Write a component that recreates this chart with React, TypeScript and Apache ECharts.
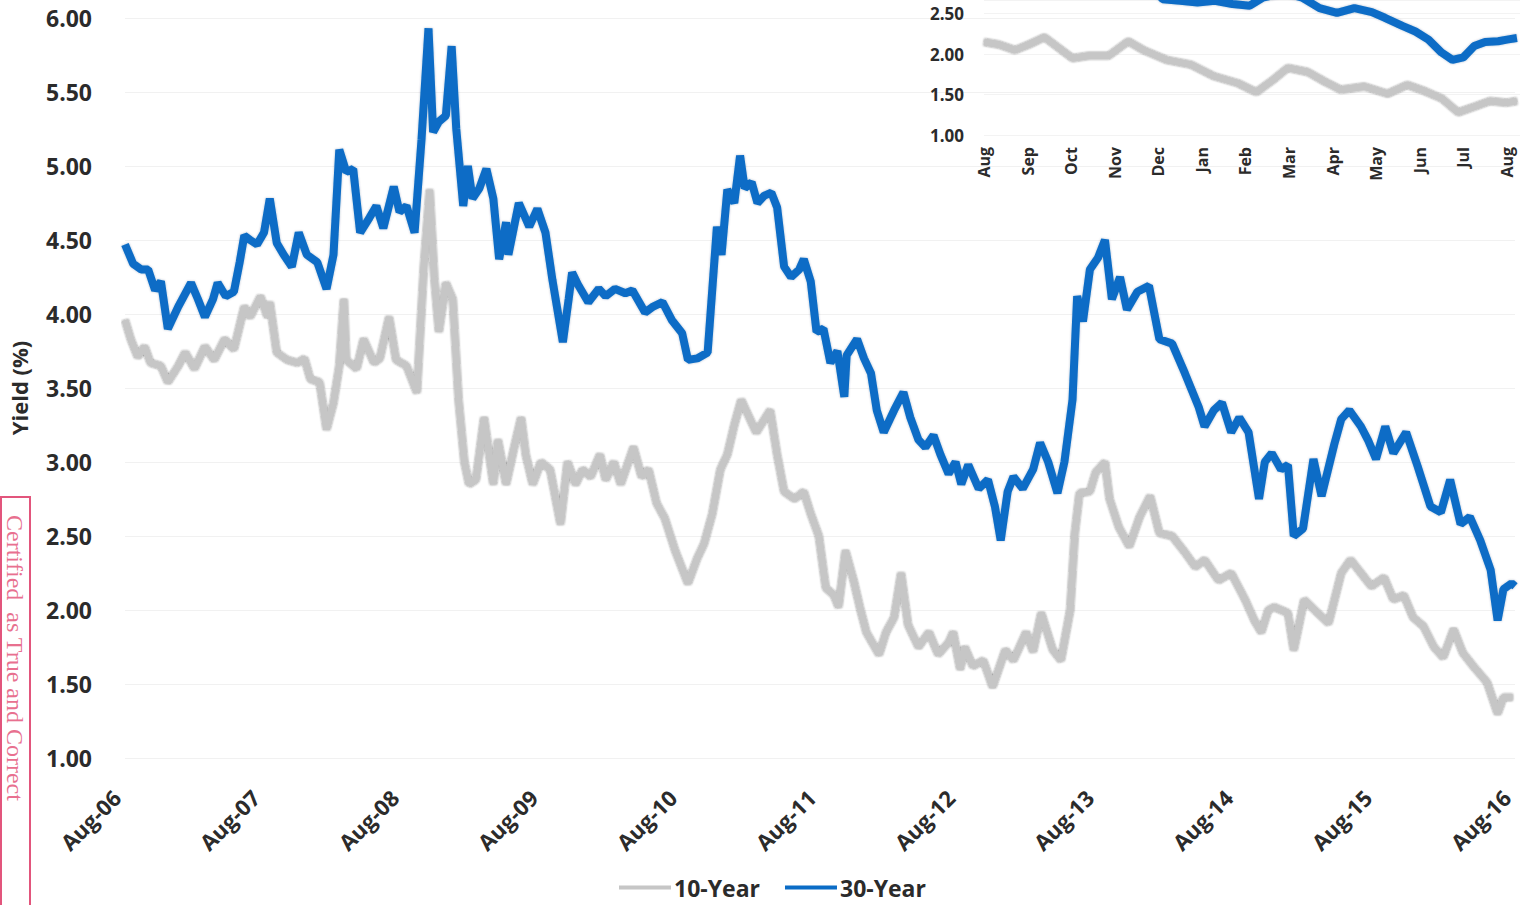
import React, { useEffect, useRef } from "react";
import * as echarts from "echarts";

// Main chart: months since Aug-2006, yields (%)
const months30 = [0,0.7,1.4,2,2.6,3.1,3.7,4.6,5.7,6.3,6.9,7.6,8,8.7,9.4,9.9,10.3,10.8,11.4,12,12.5,13.1,13.7,14.4,15,15.7,16.6,17.4,18,18.5,19.1,19.7,20.3,21.1,21.7,22.3,23.2,23.7,24.3,25,25.6,26.2,26.6,27.1,27.7,28.2,28.6,29.2,29.6,30,30.6,31.2,31.8,32.3,32.9,33.1,34,34.9,35.6,36.3,36.9,37.8,38.3,38.6,39.1,40,40.9,41.5,42.3,43.2,43.8,44.9,45.6,46.4,47.2,48.1,48.6,49.4,50.3,51.1,51.5,52,52.6,53.1,53.5,54.1,54.6,55.2,55.8,56.3,56.9,57.5,58.2,58.6,59.2,59.7,60.3,60.9,61.5,62.1,62.3,63.2,63.8,64.4,64.9,65.5,66.4,67.2,67.8,68.5,69.1,69.8,70.4,71.1,71.7,72.2,72.8,73.7,74.5,75.1,75.6,76.2,76.7,77.5,78.4,79,79.7,80.5,81.1,81.8,82.2,82.7,83.3,84,84.6,85.2,85.9,86.5,87.4,88.4,89.3,90.4,91.5,92.7,93.2,94,94.7,95.5,96.2,97,97.9,98.4,99,99.8,100.4,100.9,101.7,102.6,103.3,104.4,105,105.7,106.7,107.3,108,108.8,109.5,110.6,111.6,112.7,113.6,114.4,115.3,116.1,117,117.9,118.5,119,119.7,120];
const yields30 = [4.47,4.34,4.3,4.3,4.16,4.22,3.9,4.05,4.21,4.1,3.98,4.1,4.21,4.12,4.15,4.35,4.53,4.5,4.47,4.55,4.78,4.48,4.4,4.32,4.55,4.4,4.35,4.17,4.4,5.11,4.96,4.98,4.55,4.65,4.73,4.58,4.86,4.69,4.73,4.55,5.18,5.93,5.23,5.3,5.34,5.81,5.25,4.73,5,4.78,4.85,4.98,4.78,4.37,4.62,4.4,4.75,4.59,4.71,4.55,4.23,3.81,4.1,4.28,4.2,4.08,4.17,4.12,4.17,4.14,4.16,4.01,4.05,4.08,3.96,3.87,3.69,3.7,3.74,4.59,4.4,4.84,4.75,5.07,4.85,4.89,4.75,4.8,4.82,4.72,4.32,4.25,4.3,4.37,4.22,3.88,3.9,3.67,3.75,3.44,3.72,3.83,3.7,3.6,3.35,3.2,3.35,3.47,3.3,3.15,3.1,3.18,3.05,2.92,3,2.85,2.98,2.82,2.88,2.7,2.47,2.8,2.9,2.82,2.95,3.13,3,2.79,3,3.42,4.12,3.95,4.3,4.38,4.5,4.1,4.25,4.03,4.15,4.19,3.83,3.8,3.6,3.37,3.24,3.35,3.4,3.2,3.3,3.2,2.75,3,3.06,2.95,2.98,2.5,2.55,3.02,2.77,3.12,3.29,3.35,3.24,3.15,3.02,3.24,3.06,3.2,2.97,2.7,2.66,2.88,2.58,2.63,2.47,2.27,1.93,2.14,2.18,2.16];

const months10 = [0,0.5,1.1,1.7,2.2,3.1,3.7,4.6,5.2,6,6.9,7.7,8.6,9.4,10.3,10.8,11.7,12.3,12.5,13.1,14,14.9,15.5,16,16.8,17.4,18,18.5,18.9,19.1,20,20.6,21.5,22,22.8,23.4,24.3,25.2,25.8,26.3,26.7,27.1,27.7,28.3,28.8,29.3,29.7,30.3,31,31.8,32.2,32.9,33.6,34.2,34.6,35.2,35.9,36.7,37.6,38.2,38.9,39.5,40.2,41,41.5,42.2,42.8,43.9,44.6,45.2,45.9,46.6,47.5,48.6,49.4,50,50.7,51.4,52,52.6,53.2,53.9,54.5,55.7,56.3,56.9,57.8,58.6,59.2,59.9,60.5,61.2,61.6,62.2,62.9,63.5,64,65.1,65.7,66.4,67,67.6,68.5,69.4,70.2,71.1,71.5,72.1,72.5,73.2,74.1,74.9,76,76.7,77.8,78.4,79.1,80.1,80.8,81.6,82,82.4,83.3,83.8,84.6,85,85.8,86.7,87.6,88.5,89.3,90.4,91.5,92.4,93.2,94.4,95.5,96.7,97.5,98.1,98.7,99.2,100.4,100.9,101.8,102.7,103.9,105,105.8,106.7,107.6,108.7,109.5,110.4,111.2,112.1,113,113.8,114.7,115.5,116.4,117.6,118.5,119,119.8];
const yields10 = [3.96,3.83,3.71,3.78,3.67,3.65,3.54,3.65,3.74,3.63,3.78,3.69,3.83,3.76,4.05,3.98,4.12,3.98,4.08,3.74,3.69,3.67,3.7,3.56,3.54,3.22,3.4,3.65,4.1,3.69,3.63,3.83,3.67,3.7,3.98,3.69,3.65,3.47,4.32,4.84,4.25,3.88,4.21,4.1,3.42,3,2.85,2.88,3.3,2.85,3.15,2.85,3.1,3.3,3.05,2.85,3,2.95,2.58,3,2.85,2.95,2.9,3.05,2.88,3,2.85,3.1,2.9,2.95,2.72,2.62,2.4,2.18,2.35,2.45,2.65,2.95,3.05,3.25,3.42,3.3,3.2,3.35,3.05,2.8,2.75,2.8,2.65,2.5,2.15,2.1,2.02,2.4,2.2,2,1.85,1.7,1.85,1.95,2.25,1.9,1.75,1.85,1.7,1.78,1.85,1.6,1.75,1.62,1.66,1.48,1.73,1.66,1.85,1.72,1.98,1.73,1.66,2,2.52,2.79,2.8,2.93,3,2.75,2.56,2.43,2.63,2.77,2.52,2.5,2.39,2.29,2.34,2.2,2.25,2.07,1.93,1.85,2,2.02,1.98,1.73,2.07,2,1.91,2.25,2.34,2.25,2.16,2.22,2.07,2.1,1.95,1.89,1.75,1.68,1.87,1.71,1.62,1.51,1.3,1.41,1.41];

const mainTickLabels = ["Aug-06","Aug-07","Aug-08","Aug-09","Aug-10","Aug-11","Aug-12","Aug-13","Aug-14","Aug-15","Aug-16"];

// Inset: months since Aug-2015
const insetMonths10 = [0,0.34,0.71,1.03,1.39,1.71,2.03,2.4,2.86,3.31,3.66,4.18,4.75,5.26,5.83,6.25,6.63,6.97,7.43,7.82,8.18,8.73,9.26,9.71,10.08,10.51,10.88,11.25,11.61,12,12.23];
const insetYields10 = [2.15,2.12,2.05,2.12,2.21,2.08,1.95,1.98,1.98,2.16,2.05,1.93,1.87,1.73,1.64,1.53,1.68,1.83,1.78,1.66,1.56,1.6,1.51,1.62,1.55,1.45,1.28,1.35,1.42,1.4,1.42];
const insetMonths30 = [0,0.5,1,1.5,2,2.5,3,3.5,3.9,4.1,4.5,4.9,5.3,5.7,6.1,6.4,6.9,7.3,7.7,8.1,8.5,8.9,9.2,9.6,9.9,10.2,10.5,10.75,11,11.25,11.5,11.8,12,12.23];
const insetYields30 = [2.95,2.9,2.95,2.85,2.9,2.95,3,2.95,2.8,2.68,2.66,2.64,2.66,2.62,2.6,2.7,2.76,2.7,2.57,2.51,2.57,2.52,2.45,2.35,2.28,2.18,2.02,1.93,1.96,2.1,2.15,2.16,2.18,2.2];
const insetTickLabels = ["Aug","Sep","Oct","Nov","Dec","Jan","Feb","Mar","Apr","May","Jun","Jul","Aug"];

const FONT = "'Open Sans', 'DejaVu Sans', sans-serif";
const TEXT = "#2b2b2b";
const GRAY = "#c6c6c6";
const BLUE = "#0b6cc6";

const pair = (xs: number[], ys: number[]) => xs.map((x, i) => [x, ys[i]]);
const onHalf = (v: number) => Math.abs(v * 2 - Math.round(v * 2)) < 1e-6;

export default function App() {
  const ref = useRef<HTMLDivElement>(null);
  useEffect(() => {
    document.body.style.margin = "0";
    const chart = echarts.init(ref.current!, null, { renderer: "svg" });
    const grayLine = { color: GRAY, width: 7, shadowColor: "rgba(0,0,0,0.55)", shadowBlur: 2 };
    const blueLine = { color: BLUE, width: 8, shadowColor: "rgba(0,40,90,0.3)", shadowBlur: 2 };
    chart.setOption({
      animation: false,
      backgroundColor: "#ffffff",
      textStyle: { fontFamily: FONT },
      legend: {
        bottom: 1,
        left: 614,
        itemWidth: 52,
        itemHeight: 4,
        itemGap: 25,
        icon: "rect",
        textStyle: { fontFamily: FONT, fontWeight: "bold", fontSize: 23, color: TEXT, padding: [0, 0, 0, -2] },
        data: ["10-Year", "30-Year"],
      },
      grid: [
        { left: 117, top: 18, width: 1398, height: 740 },
        { left: 984, top: 0, width: 538, height: 135 },
      ],
      xAxis: [
        {
          type: "value", gridIndex: 0, min: 0, max: 120, interval: 12,
          axisLine: { show: false }, axisTick: { show: false }, splitLine: { show: false },
          axisLabel: {
            rotate: 45, margin: 27, fontFamily: FONT, fontWeight: "bold", fontSize: 22, color: TEXT,
            padding: [0, 12, 0, 0],
            formatter: (v: number) => (v % 12 === 0 ? mainTickLabels[v / 12] ?? "" : ""),
          },
        },
        {
          type: "value", gridIndex: 1, min: 0, max: 12.3, interval: 1,
          axisLine: { show: false }, axisTick: { show: false }, splitLine: { show: false },
          axisLabel: {
            rotate: 90, margin: 12, fontFamily: FONT, fontWeight: "bold", fontSize: 16, color: TEXT,
            formatter: (v: number) => (Number.isInteger(v) ? insetTickLabels[v] ?? "" : ""),
          },
        },
      ],
      yAxis: [
        {
          type: "value", gridIndex: 0, min: 1, max: 6, interval: 0.5,
          name: "Yield (%)", nameLocation: "middle", nameRotate: 90, nameGap: 95,
          nameTextStyle: { fontFamily: FONT, fontWeight: "bold", fontSize: 22, color: TEXT },
          axisLine: { show: false }, axisTick: { show: false },
          splitLine: { show: true, lineStyle: { color: "#f1f1f1", width: 1 } },
          axisLabel: { margin: 33, fontFamily: FONT, fontWeight: "bold", fontSize: 23, color: TEXT, formatter: (v: number) => v.toFixed(2) },
        },
        {
          type: "value", gridIndex: 1, min: 1, max: 2.67, interval: 0.5,
          axisLine: { show: false }, axisTick: { show: false },
          splitLine: { show: true, lineStyle: { color: "#f3f3f3", width: 1 } },
          axisLabel: { margin: 20, fontFamily: FONT, fontWeight: "bold", fontSize: 17, color: TEXT, formatter: (v: number) => (onHalf(v) ? v.toFixed(2) : "") },
        },
      ],
      graphic: [
        { type: "rect", shape: { x: 1, y: 497, width: 29, height: 430 }, style: { fill: "none", stroke: "#e2557c", lineWidth: 2 } },
        {
          type: "text", x: 3, y: 515, rotation: -Math.PI / 2,
          style: { text: "Certified  as True and Correct", font: "24px 'Liberation Serif', serif", fill: "#e8708f", textAlign: "left", textVerticalAlign: "bottom" },
        },
      ],
      series: [
        { name: "10-Year", type: "line", xAxisIndex: 0, yAxisIndex: 0, data: pair(months10, yields10), showSymbol: false, lineStyle: grayLine, itemStyle: { color: GRAY }, z: 2 },
        { name: "30-Year", type: "line", xAxisIndex: 0, yAxisIndex: 0, data: pair(months30, yields30), showSymbol: false, lineStyle: blueLine, itemStyle: { color: BLUE }, z: 3 },
        { name: "10-Year", type: "line", xAxisIndex: 1, yAxisIndex: 1, data: pair(insetMonths10, insetYields10), showSymbol: false, lineStyle: grayLine, itemStyle: { color: GRAY }, z: 2 },
        { name: "30-Year", type: "line", xAxisIndex: 1, yAxisIndex: 1, data: pair(insetMonths30, insetYields30), showSymbol: false, lineStyle: blueLine, itemStyle: { color: BLUE }, z: 3 },
      ],
    });
    return () => chart.dispose();
  }, []);
  return <div ref={ref} style={{ position: "absolute", left: 0, top: 0, width: 1520, height: 905 }} />;
}
